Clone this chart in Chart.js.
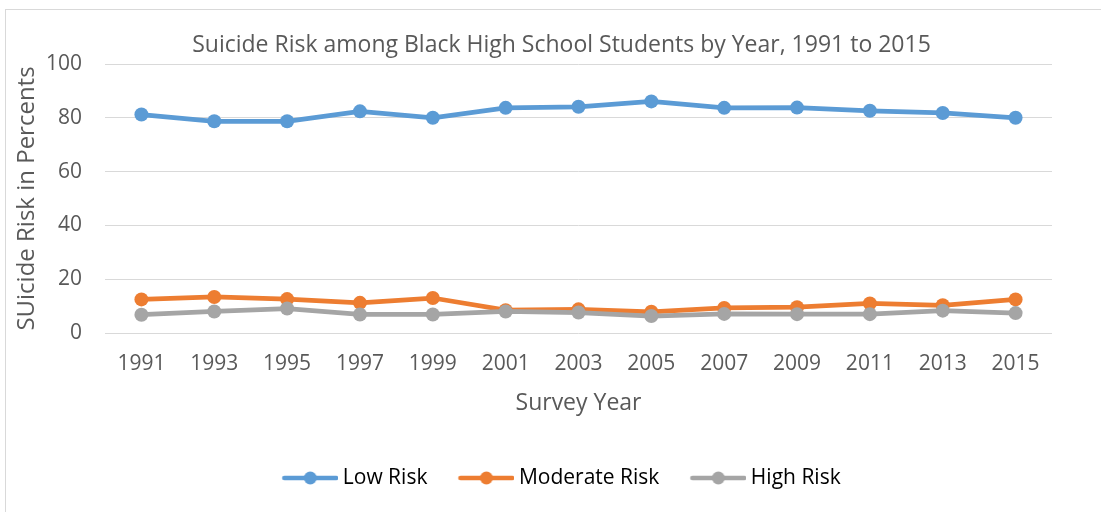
<!DOCTYPE html>
<html>
<head>
<meta charset="utf-8">
<script src="https://cdn.jsdelivr.net/npm/chart.js@4/dist/chart.umd.min.js"></script>
<style>
html,body{margin:0;padding:0;background:#fff;overflow:hidden;width:1101px;height:512px;}
canvas{display:block;}
</style>
</head>
<body>
<canvas id="c" width="1117" height="512"></canvas>
<script>
const years = ['1991','1993','1995','1997','1999','2001','2003','2005','2007','2009','2011','2013','2015'];
const lowRisk = [81.2, 78.7, 78.7, 82.4, 80.0, 83.7, 84.1, 86.1, 83.7, 83.8, 82.6, 81.8, 80.0];
const moderateRisk = [12.5, 13.4, 12.6, 11.2, 13.0, 8.5, 8.8, 7.9, 9.3, 9.6, 11.0, 10.3, 12.5];
const highRisk = [6.8, 8.0, 9.1, 6.9, 6.9, 8.0, 7.6, 6.3, 7.1, 7.0, 7.0, 8.3, 7.4];
const seriesNames = ['Low Risk', 'Moderate Risk', 'High Risk'];
const seriesColors = ['#5B9BD5', '#ED7D31', '#A5A5A5'];
const yTicks = [0, 20, 40, 60, 80, 100];

const FONT = "'Open Sans', 'DejaVu Sans', sans-serif";
const TXT = '#595959';

function legendIcon(color) {
  const cv = document.createElement('canvas');
  cv.width = 62; cv.height = 16;
  const g = cv.getContext('2d');
  g.strokeStyle = color; g.lineWidth = 4.5; g.lineCap = 'round';
  g.beginPath(); g.moveTo(8, 8); g.lineTo(60, 8); g.stroke();
  g.fillStyle = color;
  g.beginPath(); g.arc(34, 8, 6.5, 0, Math.PI * 2); g.fill();
  return cv;
}

const framePlugin = {
  id: 'frame',
  beforeDraw(chart) {
    const ctx = chart.ctx;
    ctx.save();
    ctx.fillStyle = '#fff';
    ctx.fillRect(0, 0, chart.width, chart.height);
    ctx.strokeStyle = '#d9d9d9';
    ctx.lineWidth = 1;
    ctx.strokeRect(5.5, 9.5, 1300, 1300);
    ctx.restore();
  }
};

const allSeries = [lowRisk, moderateRisk, highRisk];
const datasets = allSeries.map((d, i) => ({
  label: seriesNames[i],
  data: d,
  borderColor: seriesColors[i],
  backgroundColor: seriesColors[i],
  pointBackgroundColor: seriesColors[i],
  pointBorderColor: seriesColors[i],
  pointBorderWidth: 0,
  pointRadius: 7,
  borderWidth: 4.75,
  tension: 0,
  order: 3 - i
}));

new Chart(document.getElementById('c'), {
  type: 'line',
  data: { labels: years, datasets },
  plugins: [framePlugin],
  options: {
    responsive: false,
    animation: false,
    devicePixelRatio: 1,
    layout: { padding: { left: 6, right: 0, top: 0, bottom: 13.5 } },
    plugins: {
      tooltip: { enabled: false },
      title: {
        display: true,
        text: 'Suicide Risk among Black High School Students by Year, 1991 to 2015',
        color: TXT,
        font: { family: FONT, size: 23, weight: 'normal', lineHeight: 1.2 },
        padding: { top: 31.2, bottom: 5.2 }
      },
      legend: {
        position: 'bottom',
        labels: {
          usePointStyle: true,
          pointStyleWidth: 50,
          padding: 31,
          color: TXT,
          font: { family: FONT, size: 21 },
          generateLabels(chart) {
            return chart.data.datasets.map((ds, i) => ({
              text: ds.label,
              pointStyle: legendIcon(seriesColors[i]),
              fillStyle: seriesColors[i],
              strokeStyle: seriesColors[i],
              lineWidth: 0,
              hidden: false,
              datasetIndex: i
            }));
          }
        }
      }
    },
    scales: {
      x: {
        offset: true,
        grid: { display: false, drawTicks: false, offset: true },
        border: { display: false },
        ticks: { color: TXT, font: { family: FONT, size: 21 }, padding: 18, maxRotation: 0, autoSkip: false },
        title: {
          display: true, text: 'Survey Year', color: TXT,
          font: { family: FONT, size: 23 },
          padding: { top: -5, bottom: 19.7 }
        }
      },
      y: {
        min: 0, max: 100,
        afterBuildTicks(scale) { scale.ticks = yTicks.map(v => ({ value: v })); },
        grid: { color: '#d9d9d9', lineWidth: 1, drawTicks: false },
        border: { display: false },
        ticks: { color: TXT, font: { family: FONT, size: 21 }, padding: 23 },
        title: {
          display: true, text: 'SUicide Risk in Percents', color: TXT,
          font: { family: FONT, size: 24 },
          padding: { top: 7, bottom: 0 }
        },
        afterFit(scale) { scale.width = 99; }
      },
      y2: {
        position: 'right',
        display: true,
        grid: { display: false, drawTicks: false },
        border: { display: false },
        ticks: { display: false },
        afterFit(scale) { scale.width = 65; }
      }
    }
  }
});
</script>
</body>
</html>
